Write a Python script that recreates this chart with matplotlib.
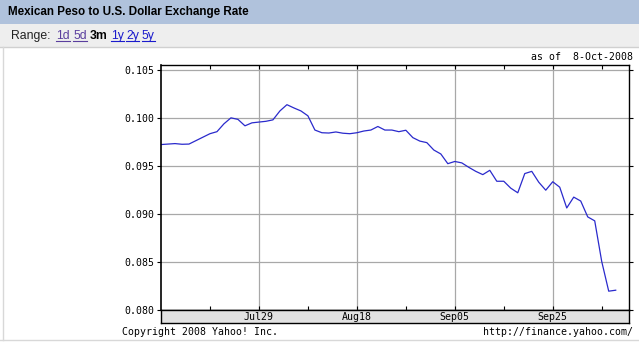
import numpy as np
import pandas as pd
import matplotlib
matplotlib.use("Agg")
from matplotlib import pyplot as plt
from matplotlib.patches import Rectangle
from matplotlib.lines import Line2D

# peso in US dollars, one value per weekday from 9-Jul-2008 to 8-Oct-2008
rate = [0.09722, 0.09727, 0.09732, 0.09725, 0.09727, 0.09763, 0.09799, 0.09835,
        0.09856, 0.09938, 0.10000, 0.09984, 0.09917, 0.09948, 0.09956, 0.09964,
        0.09979, 0.10072, 0.10137, 0.10103, 0.10072, 0.10021, 0.09873, 0.09845,
        0.09842, 0.09853, 0.09840, 0.09835, 0.09845, 0.09863, 0.09873, 0.09910,
        0.09873, 0.09873, 0.09856, 0.09871, 0.09794, 0.09758, 0.09742, 0.09665,
        0.09624, 0.09523, 0.09546, 0.09531, 0.09485, 0.09443, 0.09409, 0.09454,
        0.09340, 0.09340, 0.09268, 0.09220, 0.09420, 0.09443, 0.09330, 0.09247,
        0.09335, 0.09278, 0.09062, 0.09175, 0.09134, 0.08969, 0.08928, 0.08505,
        0.08196, 0.08206]
days = pd.bdate_range("2008-07-09", periods=len(rate))
date_labels = ["Jul29", "Aug18", "Sep05", "Sep25"]
label_days = ["2008-07-29", "2008-08-18", "2008-09-05", "2008-09-25"]
y_ticks = [0.080, 0.085, 0.090, 0.095, 0.100, 0.105]

W, H = 639, 344
fig = plt.figure(figsize=(W / 100, H / 100), dpi=100)
fig.patch.set_facecolor("white")

def fx(px):
    return px / W

def fy(py):
    return 1 - py / H

# header bars
fig.patches.append(Rectangle((0, fy(24)), 1, 24 / H, transform=fig.transFigure,
                             facecolor="#B0C2DC", edgecolor="none"))
fig.patches.append(Rectangle((0, fy(47)), 1, 23 / H, transform=fig.transFigure,
                             facecolor="#EEEEEE", edgecolor="none"))
fig.lines.append(Line2D([0, 1], [fy(47), fy(47)], transform=fig.transFigure,
                        color="#D0D0D0", lw=1))
fig.lines.append(Line2D([fx(2.5), fx(2.5)], [fy(47), fy(340)], transform=fig.transFigure,
                        color="#D8D8D8", lw=1))
fig.lines.append(Line2D([0, 1], [fy(340), fy(340)], transform=fig.transFigure,
                        color="#D8D8D8", lw=1))

fig.text(fx(8), fy(12.5), "Mexican Peso to U.S. Dollar Exchange Rate",
         family="Liberation Sans", weight="bold", fontsize=8.4, va="center")
fig.text(fx(11), fy(36), "Range:", family="Liberation Sans", fontsize=8.8,
         va="center", color="#222222")
links = [("1d", 56, "#5A3E9E"), ("5d", 73, "#5A3E9E"), ("3m", 90, "black"),
         ("1y", 111, "#1A1ACC"), ("2y", 126, "#1A1ACC"), ("5y", 142, "#1A1ACC")]
link_texts = []
for lab, px, col in links:
    t = fig.text(fx(px), fy(36), lab, family="Liberation Sans", fontsize=8.8,
                 va="center", color=col, weight="bold" if lab == "3m" else "normal")
    if lab != "3m":
        link_texts.append((t, col))

mono = "DejaVu Sans Mono"
fig.text(fx(633), fy(57), "as of  8-Oct-2008", family=mono, fontsize=7.1,
         ha="right", va="center")
fig.text(fx(122), fy(332), "Copyright 2008 Yahoo! Inc.", family=mono, fontsize=7.1,
         va="center")
fig.text(fx(633), fy(332), "http://finance.yahoo.com/", family=mono, fontsize=7.1,
         ha="right", va="center")

# main chart
x = np.arange(len(rate))
major = [list(days).index(pd.Timestamp(d)) for d in label_days]
minor = [m - 7 for m in major] + [major[-1] + 7]

ax = fig.add_axes([fx(161), fy(310), fx(629) - fx(161), fy(65) - fy(310)])
ax.plot(x, rate, color="#2A2ACC", lw=0.9)
ax.set_xlim(0, 66.9)
ax.set_ylim(0.080, 0.1055)
ax.set_yticks(y_ticks)
ax.set_yticklabels(["%.3f" % v for v in y_ticks], family=mono, fontsize=7.1)
ax.set_xticks(major)
ax.set_xticks(minor, minor=True)
ax.set_xticklabels([])
ax.grid(True, color="#A8A8A8", lw=0.9)
ax.tick_params(axis="y", direction="out", length=3, width=0.8, left=True, right=True, pad=2)
ax.tick_params(axis="x", which="both", direction="in", length=3, width=0.8,
               top=True, bottom=True)
for s in ax.spines.values():
    s.set_linewidth(1)
    s.set_color("black")
ax.spines["left"].set_linewidth(1.2)

# date strip under the chart
ax2 = fig.add_axes([fx(161), fy(323), fx(629) - fx(161), 13 / H])
ax2.set_facecolor("#E2E2E2")
ax2.set_xlim(ax.get_xlim())
ax2.set_ylim(0, 1)
ax2.set_xticks([])
ax2.set_yticks([])
for pos, lab in zip(major, date_labels):
    ax2.text(pos, 0.45, lab, family=mono, fontsize=7.1, ha="center", va="center")
for s in ax2.spines.values():
    s.set_linewidth(1)
    s.set_color("black")

# underline the links
fig.canvas.draw()
r = fig.canvas.get_renderer()
for t, col in link_texts:
    bb = t.get_window_extent(r)
    yy = (bb.y0 + 1) / H
    fig.lines.append(Line2D([bb.x0 / W, bb.x1 / W], [yy, yy], transform=fig.transFigure,
                            color=col, lw=0.8))

fig.savefig("out.png", dpi=100)
